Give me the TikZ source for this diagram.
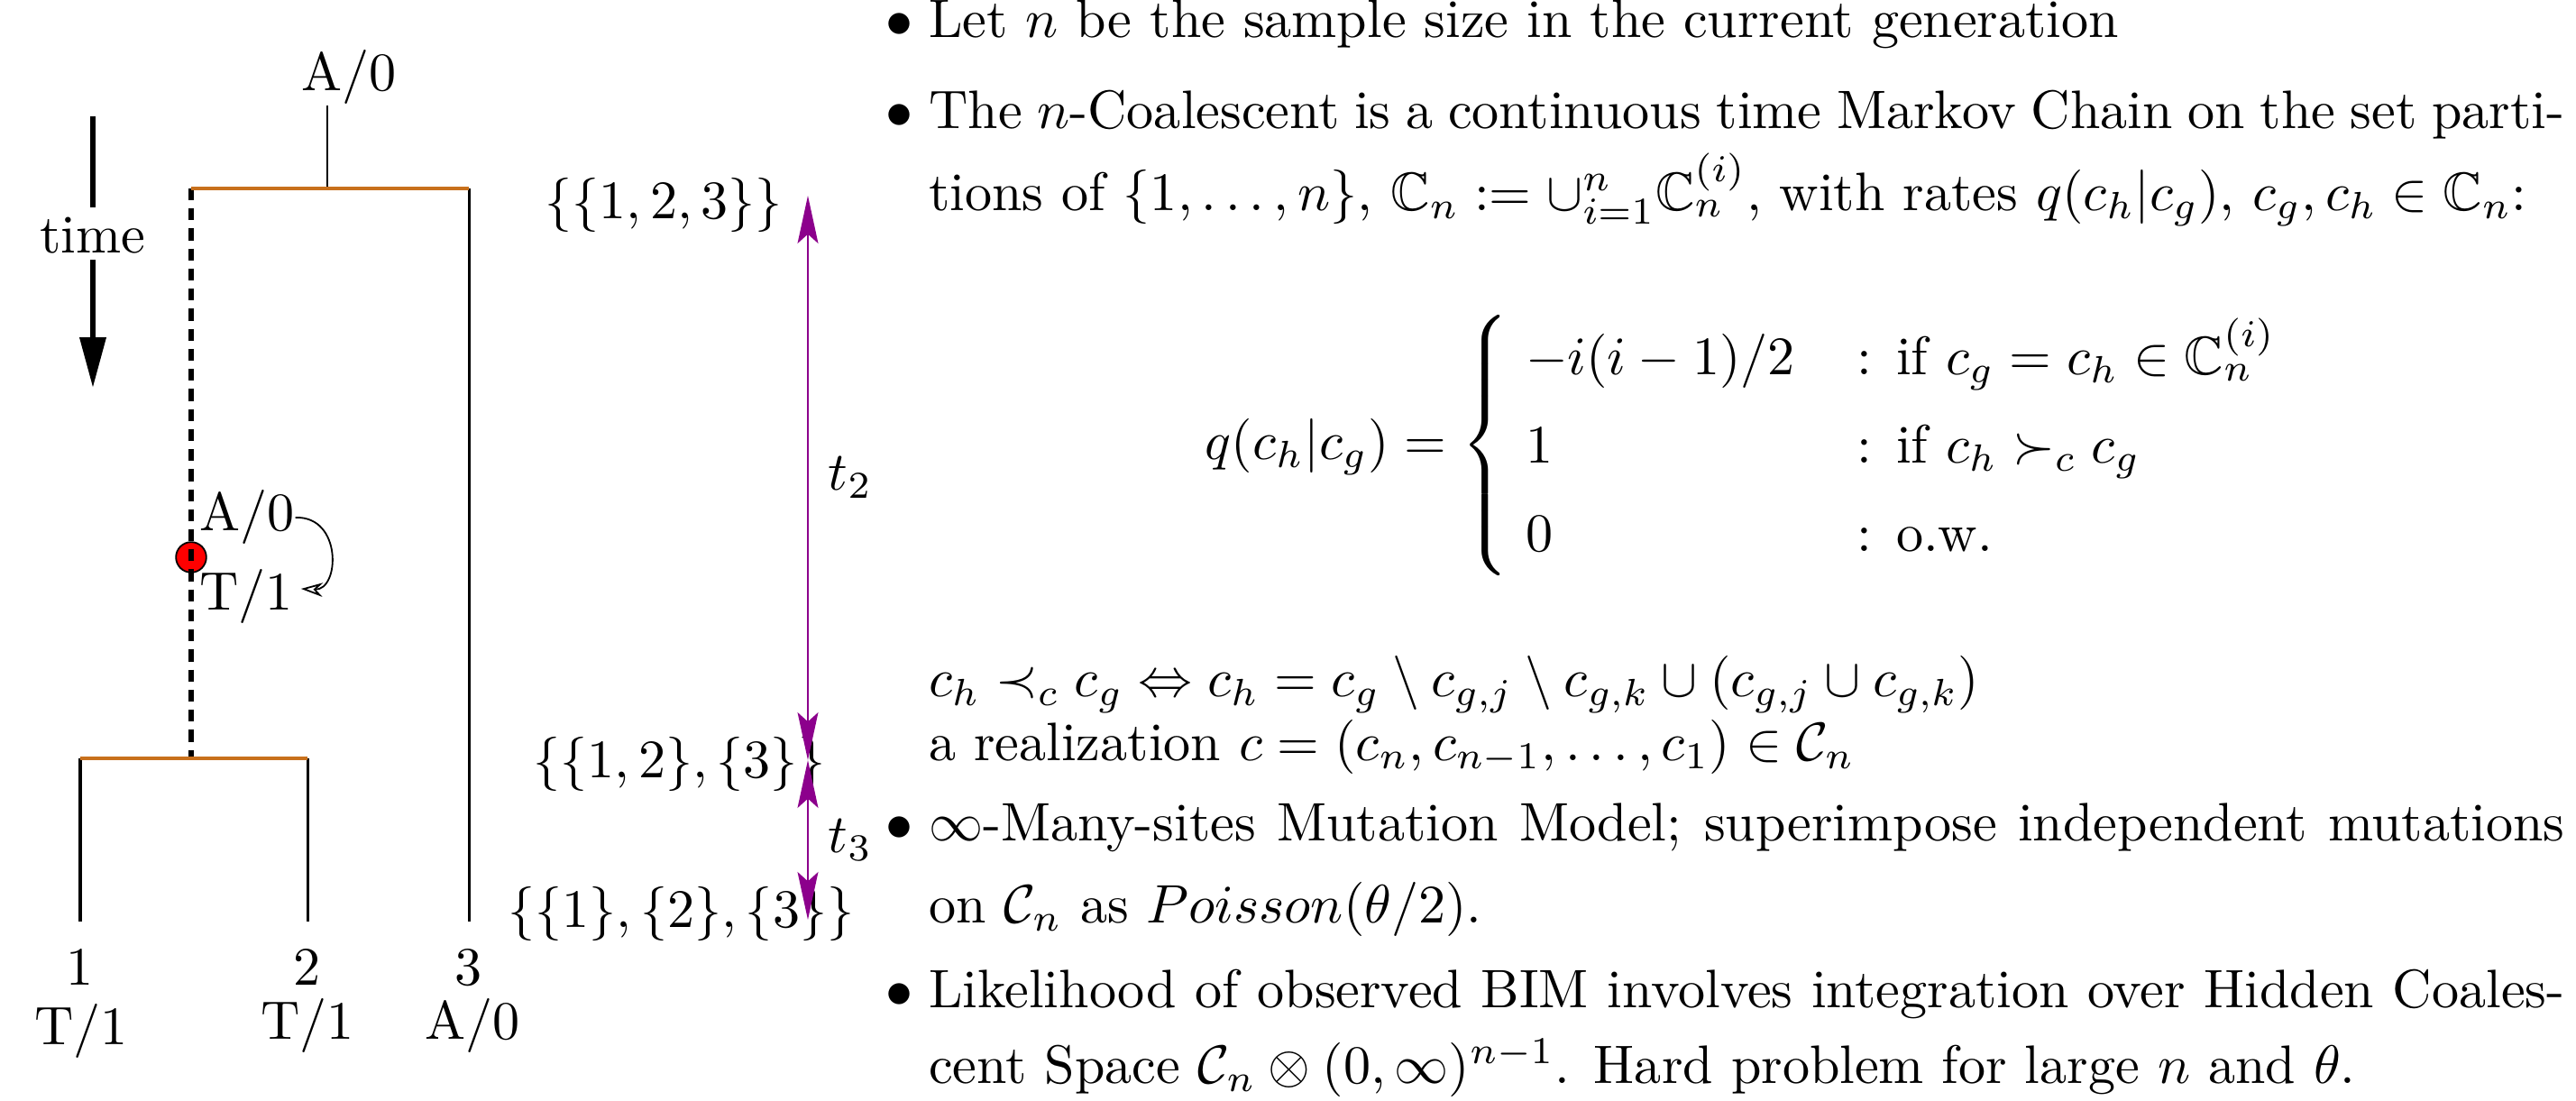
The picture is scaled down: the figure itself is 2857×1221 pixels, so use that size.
\documentclass[tikz,border=0pt]{standalone}
\usepackage{amsmath,amssymb}
\usepackage{xcolor}
\usetikzlibrary{arrows.meta}

\definecolor{branchorange}{RGB}{200,112,28}
\definecolor{spanpurple}{RGB}{140,0,140}

\begin{document}
\begin{tikzpicture}[x=0.1664pt, y=-0.1664pt,
    branch/.style={line width=0.5pt},
    coal/.style={line width=0.6pt, draw=branchorange},
    lineage/.style={line width=1.1pt, dash pattern=on 2.2pt off 1.5pt},
    timeline/.style={line width=1pt},
    tspan/.style={{Stealth[length=8.8pt,width=3.8pt,inset=1.7pt]}-{Stealth[length=8.8pt,width=3.8pt,inset=1.7pt]}, line width=0.45pt, draw=spanpurple},
    lab/.style={inner sep=0pt, anchor=base},
    mutdot/.style={circle, draw, line width=0.3pt, fill=red, inner sep=0pt, minimum size=5.6pt},
    bulletitem/.style={inner sep=0pt, anchor=base west, text width=301.9pt, align=justify}
]
    \useasboundingbox (0,0) rectangle (2857,1221);

    % time axis on the far left
    \coordinate (timea) at (103,129);
    \coordinate (timeb) at (103,230);
    \coordinate (timec) at (103,288);
    \coordinate (timed) at (103,430);
    \node[lab] (timelab) at (103,281) {time};
    \draw[timeline] (timea) -- (timeb);
    \draw[timeline, -{Triangle[length=9.3pt,width=4.7pt]}] (timec) -- (timed);

    % genealogy of the three samples
    \coordinate (rootl) at (212,209);
    \coordinate (rootm) at (363,209);
    \coordinate (rootr) at (520,209);
    \coordinate (cherryl) at (89,841);
    \coordinate (cherrym) at (212,841);
    \coordinate (cherryr) at (341,841);
    \coordinate (leafa) at (89,1022);
    \coordinate (leafb) at (341,1022);
    \coordinate (leafc) at (520,1022);

    \node[lab] (rootlab) at (387,101) {A/0};
    \draw[line width=0.3pt] (rootm) -- (rootm |- rootlab.south);

    \draw[branch] (cherryl) -- (leafa);
    \draw[branch] (cherryr) -- (leafb);
    \draw[branch] (rootr) -- (leafc);

    % mutation on the internal lineage
    \node[mutdot] (mut) at (212,618) {};
    \draw[lineage] (rootl) -- (cherrym);
    \draw[coal] (rootl) -- (rootr);
    \draw[coal] (cherryl) -- (cherryr);

    \node[lab, anchor=base west] (mutA) at (220,589) {A/0};
    \node[lab, anchor=base west] (mutT) at (220,677) {T/1};
    \draw[line width=0.3pt, -{Stealth[open,length=4pt,width=2.6pt]}] (mutA.east) .. controls (380,572) and (377,655) .. ([shift={(8,-9)}]mutT.east);

    % leaf labels
    \node[lab] (leafalab) at (89,1092) {1};
    \node[lab] (leafbl) at (341,1092) {2};
    \node[lab] (leafclab) at (520,1092) {3};
    \node[lab] (leafastate) at (90,1158) {T/1};
    \node[lab] (leafbstate) at (341,1152) {T/1};
    \node[lab] (leafcstate) at (524,1152) {A/0};

    % partitions and waiting times
    \node[lab, anchor=base west] (parta) at (603,243) {$\{\{1,2,3\}\}$};
    \node[lab, anchor=base west] (partb) at (590,863) {$\{\{1,2\},\{3\}\}$};
    \node[lab, anchor=base west] (partc) at (562,1028) {$\{\{1\},\{2\},\{3\}\}$};

    \coordinate (spana) at (896,217);
    \coordinate (spanb) at (896,843);
    \coordinate (spanc) at (896,1020);
    \draw[tspan] (spana) -- node[right=3.6pt, inner sep=0pt] {$t_2$} (spanb);
    \draw[tspan] (spanb) -- node[right=3.6pt, inner sep=0pt] {$t_3$} (spanc);

    % text on the right
    \node[bulletitem] (samplesize) at (1029,42) {\llap{$\bullet$\hspace{3pt}}Let $n$ be the sample size in the current generation};

    \node[bulletitem, font=\fontsize{10}{15}\selectfont] (coalescent) at (1029,143) {\parfillskip=0pt \llap{$\bullet$\hspace{3pt}}The $n$-Coalescent is a continuous time Markov Chain on the set parti-\linebreak tions of $\{1,\ldots,n\}$, $\mathbb{C}_n := \cup_{i=1}^{n}\mathbb{C}_n^{(i)}$, with rates $q(c_h|c_g)$, $c_g,c_h\in\mathbb{C}_n$:};

    \node[inner sep=0pt] (rates) at (1934,494) {$\displaystyle q(c_h|c_g) = \left\{\renewcommand{\arraystretch}{1.36}\begin{array}{@{\hspace{3pt}}l@{\hspace{11.5pt}}l@{}}
        -i(i-1)/2 & \text{: if } c_g = c_h \in \mathbb{C}_n^{(i)}\\
        1 & \text{: if } c_h \succ_c c_g\\
        0 & \text{: o.w.}
    \end{array}\right.$};

    \node[bulletitem, font=\fontsize{10}{11.7}\selectfont] (order) at (1029,773) {$c_h \prec_c c_g \Leftrightarrow c_h = c_g \setminus c_{g,j} \setminus c_{g,k} \cup (c_{g,j}\cup c_{g,k})$\\
        a realization $c=(c_n,c_{n-1},\ldots,c_1)\in\mathcal{C}_n$};

    \node[bulletitem, font=\fontsize{10}{15}\selectfont] (mutmodel) at (1029,933) {\llap{$\bullet$\hspace{3pt}}$\infty$-Many-sites Mutation Model; superimpose independent mutations on $\mathcal{C}_n$ as $Poisson(\theta/2)$.};

    \node[bulletitem, font=\fontsize{10}{14.1}\selectfont] (likelihood) at (1029,1117) {\llap{$\bullet$\hspace{3pt}}Likelihood of observed BIM involves integration over Hidden Coales-\linebreak cent Space $\mathcal{C}_n\otimes(0,\infty)^{n-1}$. Hard problem for large $n$ and $\theta$.};
\end{tikzpicture}
\end{document}
